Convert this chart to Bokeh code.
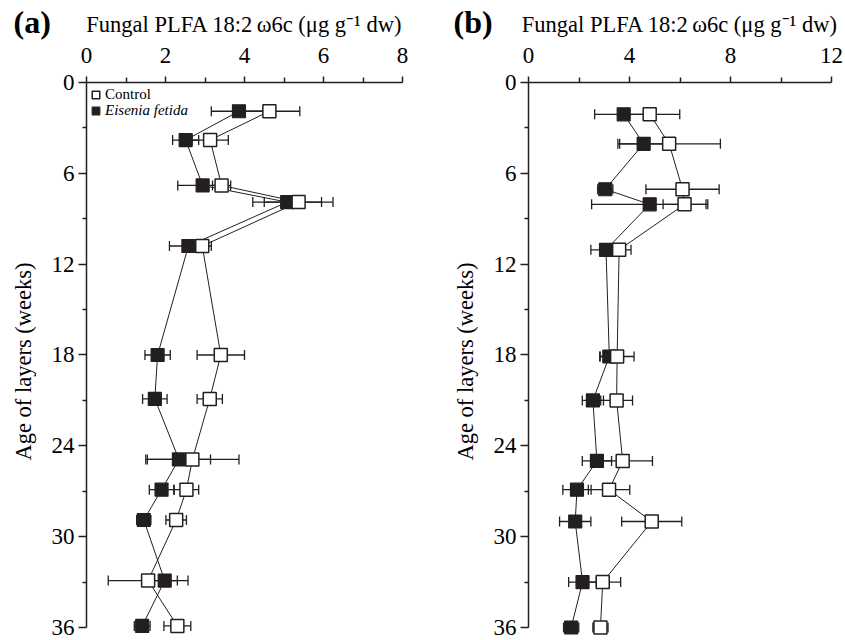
from bokeh.plotting import figure
from bokeh.models import (Range1d, FixedTicker, Whisker, TeeHead, ColumnDataSource,
                          Legend, LegendItem, Title)
from bokeh.layouts import row
from bokeh.embed import file_html
from bokeh.resources import INLINE

# ---------------- data ----------------
# Panel (a)
weeks_a = [1.9, 3.8, 6.8, 7.9, 10.8, 18.0, 20.9, 24.9, 26.9, 28.9, 32.9, 35.9]
eisenia_a = [3.86, 2.51, 2.94, 5.08, 2.58, 1.80, 1.73, 2.34, 1.90, 1.45, 1.98, 1.41]
eisenia_a_err = [0.70, 0.33, 0.63, 0.87, 0.48, 0.32, 0.31, 0.80, 0.31, 0.18, 0.32, 0.20]
control_a = [4.63, 3.13, 3.42, 5.37, 2.93, 3.40, 3.12, 2.68, 2.53, 2.27, 1.56, 2.30]
control_a_err = [0.77, 0.46, 0.23, 0.87, 0.23, 0.60, 0.32, 1.18, 0.31, 0.26, 1.01, 0.34]

# Panel (b)
weeks_b = [2.1, 4.05, 7.05, 8.05, 11.05, 18.1, 21.0, 25.0, 26.9, 29.0, 33.0, 36.0]
eisenia_b = [3.77, 4.56, 3.04, 4.80, 3.07, 3.20, 2.55, 2.71, 1.92, 1.85, 2.14, 1.69]
eisenia_b_err = [1.15, 0.95, 0.30, 2.30, 0.60, 0.38, 0.42, 0.58, 0.56, 0.62, 0.55, 0.30]
control_b = [4.80, 5.57, 6.10, 6.18, 3.59, 3.51, 3.49, 3.73, 3.19, 4.88, 2.94, 2.85]
control_b_err = [1.19, 2.03, 1.45, 0.85, 0.47, 0.67, 0.63, 1.18, 0.82, 1.19, 0.71, 0.30]

xticks_a = [0, 2, 4, 6, 8]
xminor_a = [1, 3, 5, 7]
xticks_b = [0, 4, 8, 12]
xminor_b = [2, 6, 10]
yticks = [0, 6, 12, 18, 24, 30, 36]
yminor = [3, 9, 15, 21, 27, 33]

x_label = "Fungal PLFA 18:2\u2009\u03c96c (\u03bcg g\u207b\u00b9 dw)"
y_label = "Age of layers (weeks)"
FONT = "Liberation Serif"
BLACK = "#231f20"
H = 640


def panel(tag, weeks, ef, ef_err, ct, ct_err, xmax, xticks, xminor,
          width, border_left, border_right, legend):
    p = figure(width=width, height=H, output_backend="svg", toolbar_location=None,
               x_range=Range1d(0, xmax), y_range=Range1d(36.86, 0),
               x_axis_location="above",
               min_border_left=border_left, min_border_right=border_right,
               min_border_top=82, min_border_bottom=0)
    p.xgrid.visible = False
    p.ygrid.visible = False
    p.outline_line_color = None
    p.background_fill_color = "white"
    p.border_fill_color = "white"

    xa = p.xaxis[0]
    xa.ticker = FixedTicker(ticks=xticks, minor_ticks=xminor)
    xa.axis_label = x_label
    ya = p.yaxis[0]
    ya.ticker = FixedTicker(ticks=yticks, minor_ticks=yminor)
    ya.bounds = (0, 36)
    ya.axis_label = y_label
    for ax in (xa, ya):
        ax.axis_line_width = 1.5
        ax.axis_line_color = BLACK
        ax.major_tick_line_width = 1.5
        ax.minor_tick_line_width = 1.5
        ax.major_tick_line_color = BLACK
        ax.minor_tick_line_color = BLACK
        ax.major_tick_in = 0
        ax.minor_tick_in = 0
        ax.major_label_text_font = FONT
        ax.major_label_text_font_size = "23px"
        ax.major_label_text_color = "black"
        ax.axis_label_text_font = FONT
        ax.axis_label_text_font_size = "22.5px"
        ax.axis_label_text_font_style = "normal"
        ax.axis_label_text_color = "black"
    xa.major_tick_out = 6
    xa.minor_tick_out = 5
    xa.major_label_standoff = 14
    xa.axis_label_standoff = 8
    ya.major_tick_out = 8
    ya.minor_tick_out = 4
    ya.major_label_standoff = 4
    ya.axis_label_standoff = 13

    src_e = ColumnDataSource(dict(x=ef, y=weeks,
                                  lo=[v - e for v, e in zip(ef, ef_err)],
                                  hi=[v + e for v, e in zip(ef, ef_err)]))
    src_c = ColumnDataSource(dict(x=ct, y=weeks,
                                  lo=[v - e for v, e in zip(ct, ct_err)],
                                  hi=[v + e for v, e in zip(ct, ct_err)]))

    for src in (src_e, src_c):
        w = Whisker(source=src, base="y", lower="lo", upper="hi", dimension="width",
                    level="underlay", line_color=BLACK, line_width=1.3,
                    upper_head=TeeHead(size=10, line_width=1.3, line_color=BLACK),
                    lower_head=TeeHead(size=10, line_width=1.3, line_color=BLACK))
        p.add_layout(w)

    p.line("x", "y", source=src_e, line_color=BLACK, line_width=1)
    p.line("x", "y", source=src_c, line_color=BLACK, line_width=1)
    r_e = p.scatter("x", "y", source=src_e, marker="square", size=13,
                    fill_color=BLACK, line_color=BLACK, line_width=1.2)
    r_c = p.scatter("x", "y", source=src_c, marker="square", size=13,
                    fill_color="white", line_color=BLACK, line_width=1.5)

    # panel tag, above-left of the frame (a title pulled down beside the axis label)
    p.add_layout(Title(text=tag, align="left", offset=13 - border_left,
                       standoff=-62, text_font=FONT, text_font_style="bold",
                       text_font_size="32px", text_color="black"), "above")

    if legend:
        for lbl, rend, style, ypos in (("Control", r_c, "normal", 536),
                                       ("Eisenia fetida", r_e, "italic", 520)):
            lg = Legend(items=[LegendItem(label=lbl, renderers=[rend])],
                        location=(0, ypos), orientation="vertical",
                        glyph_width=19, glyph_height=19, label_standoff=-4,
                        padding=0, margin=0, spacing=0,
                        border_line_color=None, background_fill_alpha=0,
                        label_text_font=FONT, label_text_font_size="15px",
                        label_text_font_style=style, label_text_color="black",
                        label_text_baseline="middle")
            p.add_layout(lg)
    return p


pa = panel("(a)", weeks_a, eisenia_a, eisenia_a_err, control_a, control_a_err,
           8, xticks_a, xminor_a, 440, 86, 38, True)
pb = panel("(b)", weeks_b, eisenia_b, eisenia_b_err, control_b, control_b_err,
           12, xticks_b, xminor_b, 405, 88, 14, False)

layout = row(pa, pb)
open("out.html", "w").write(file_html(layout, INLINE))
